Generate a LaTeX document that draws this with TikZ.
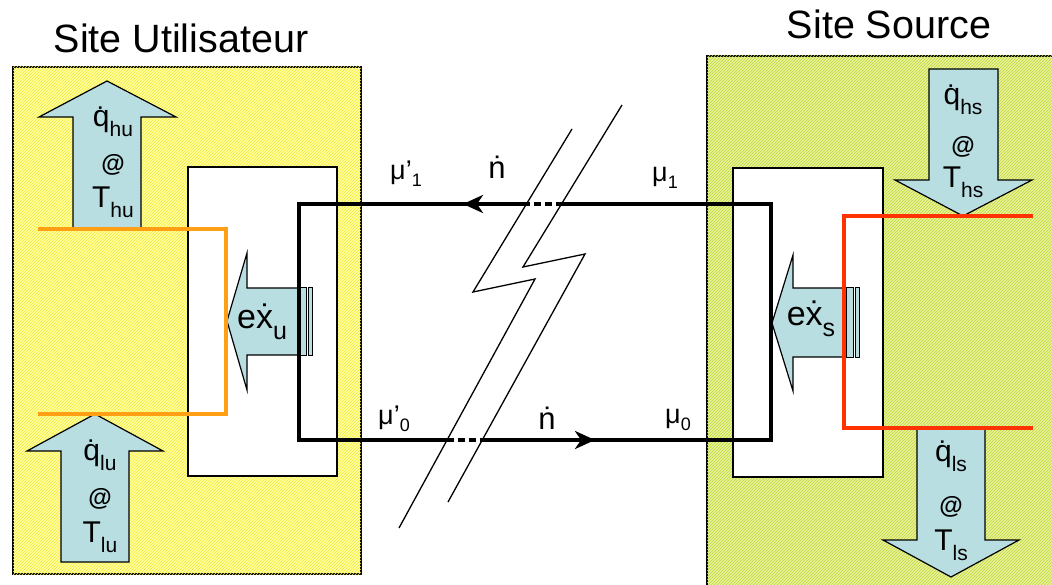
\documentclass[tikz,border=0pt]{standalone}
\usepackage{fontspec}
\setmainfont{Liberation Sans}
\usetikzlibrary{arrows.meta,patterns}
\definecolor{UserYellow}{RGB}{255,255,165}
\definecolor{UserHatch}{RGB}{245,235,50}
\definecolor{SourceGreen}{RGB}{232,242,160}
\definecolor{SourceHatch}{RGB}{190,216,50}
\definecolor{ArrowBlue}{RGB}{185,222,226}
\definecolor{PipeOrange}{RGB}{255,160,20}
\definecolor{PipeRed}{RGB}{255,50,0}
\newcommand{\hsub}[1]{\raisebox{-10pt}{\fontsize{21}{21}\selectfont #1}}
\newcommand{\msub}[1]{\raisebox{-7pt}{\fontsize{18}{18}\selectfont #1}}
\newcommand{\xsub}[1]{\raisebox{-11pt}{\fontsize{25}{25}\selectfont #1}}
\tikzset{
 site user/.style={draw=black,line width=1.5pt,fill=UserYellow,
                   postaction={pattern=north east lines,pattern color=UserHatch}},
 site source/.style={draw=black,line width=1.5pt,fill=SourceGreen,
                     postaction={pattern=north east lines,pattern color=SourceHatch}},
 hx box/.style={draw=black,line width=1.3pt,fill=white},
 heat arrow/.style={draw=black,line width=1.2pt,fill=ArrowBlue,line join=miter},
 plate/.style={draw=black,line width=1pt,fill=ArrowBlue},
 loop line/.style={line width=4pt},
 loop gap/.style={line width=4pt,dash pattern=on 7pt off 4pt},
 bolt line/.style={line width=1.3pt},
 pipe user/.style={line width=4pt,draw=PipeOrange},
 pipe source/.style={line width=4pt,draw=PipeRed},
 site title/.style={font=\fontsize{39.5}{40}\selectfont,anchor=base,inner sep=0pt},
 heat label/.style={font=\fontsize{30}{30}\selectfont,anchor=base,inner sep=0pt},
 heat at/.style={font=\fontsize{24}{24}\selectfont\bfseries,anchor=base,inner sep=0pt},
 mu label/.style={font=\fontsize{27}{27}\selectfont,anchor=base west,inner sep=0pt},
 flow label/.style={font=\fontsize{31}{31}\selectfont,anchor=base,inner sep=0pt},
 ex label/.style={font=\fontsize{34}{34}\selectfont,anchor=base,inner sep=0pt}
}
\begin{document}
\begin{tikzpicture}[x=1pt,y=-1pt]
 \useasboundingbox (0,0) rectangle (1052,585);
 \clip (0,0) rectangle (1052,585);
 % sites
 \draw[site user] (13,67) rectangle (361,574);
 \draw[site source] (707,56) rectangle (1070,600);
 \node[site title] (titleU) at (181,53) {Site Utilisateur};
 \node[site title] (titleS) at (889,39) {Site Source};
 \draw[hx box] (188,167) rectangle (337,476);
 \draw[hx box] (733,168) rectangle (883,477);

 % heat flows
 \draw[heat arrow] (73,229)--(73,117)--(39,117)--(107,81)--(176,117)--(141,117)--(141,229)--cycle;
 \draw[heat arrow] (61,562)--(61,451)--(27,451)--(95,414)--(163,451)--(129,451)--(129,562)--cycle;
 \draw[heat arrow] (929,69)--(929,180)--(895,180)--(963,216)--(1032,180)--(998,180)--(998,69)--cycle;
 \draw[heat arrow] (917,428)--(917,540)--(883,540)--(951,577)--(1019,540)--(985,540)--(985,428)--cycle;
 \foreach \s/\x/\yq/\ya/\yt in {hu/113/127/172/208,lu/100/460/505/542,
                                hs/963/105/154/188,ls/951/461/513/550}{
   \node[heat label] (q\s) at (\x,\yq) {\.{q}\hsub{\s}};
   \node[heat at] (at\s) at (\x,\ya) {@};
   \node[heat label] (T\s) at (\x,\yt) {T\hsub{\s}};
 }

 % exergy
 \draw[heat arrow] (298,288)--(247,288)--(247,253)--(227,321)--(247,390)--(247,355)--(298,355)--cycle;
 \draw[plate] (298,288) rectangle (306,355);
 \draw[plate] (308,288) rectangle (312,355);
 \draw[heat arrow] (846,288)--(793,288)--(793,255)--(772,323)--(793,391)--(793,357)--(846,357)--cycle;
 \draw[plate] (846,288) rectangle (853,357);
 \draw[plate] (855,288) rectangle (859,357);
 \node[ex label] (exU) at (262,328) {e\.{x}\xsub{u}};
 \node[ex label] (exS) at (811,326) {e\.{x}\xsub{s}};

 % pipes
 \coordinate (uh) at (38,229);
 \coordinate (ul) at (38,414);
 \coordinate (sh) at (1033,216);
 \coordinate (sl) at (1033,428);
 \draw[pipe user,line join=miter] (uh) -- (226,229) -- (226,414) -- (ul);
 \draw[pipe source,line join=miter] (sh) -- (844,216) -- (844,428) -- (sl);

 % loop
 \coordinate (lt) at (299,204);
 \coordinate (rt) at (771,204);
 \coordinate (rb) at (771,440);
 \coordinate (lb) at (299,440);
 \coordinate (gaptl) at (523,204);
 \coordinate (gaptr) at (559,204);
 \coordinate (gapbl) at (447,440);
 \coordinate (gapbr) at (483,440);
 \coordinate (tipT) at (463,204);
 \coordinate (tipB) at (595,440);
 \draw[loop line,-{Stealth[length=20pt,width=18pt,inset=6pt]}] (gaptl) -- (tipT);
 \draw[loop line,-{Stealth[length=20pt,width=18pt,inset=6pt]}] (gapbr) -- (tipB);
 \draw[loop line,line join=miter] (gaptr) -- (rt) -- (rb) -- (gapbr);
 \draw[loop line,line join=miter] (gaptl) -- (lt) -- (lb) -- (gapbl);
 \draw[loop gap] (gaptl) -- (gaptr);
 \draw[loop gap] (gapbl) -- (gapbr);

 % break
 \draw[bolt line] (572,129) -- (473,292) -- (535,279) -- (399,528);
 \draw[bolt line] (622,105) -- (523,267) -- (585,254) -- (448,502);

 \node[mu label] (mu1p) at (390,180) {μ’\msub{1}};
 \node[mu label] (mu1) at (652,182) {μ\msub{1}};
 \node[mu label] (mu0p) at (378,424) {μ’\msub{0}};
 \node[mu label] (mu0) at (665,423) {μ\msub{0}};
 \node[flow label] (nT) at (497,179) {\.{n}};
 \node[flow label] (nB) at (547,429) {\.{n}};
\end{tikzpicture}
\end{document}
